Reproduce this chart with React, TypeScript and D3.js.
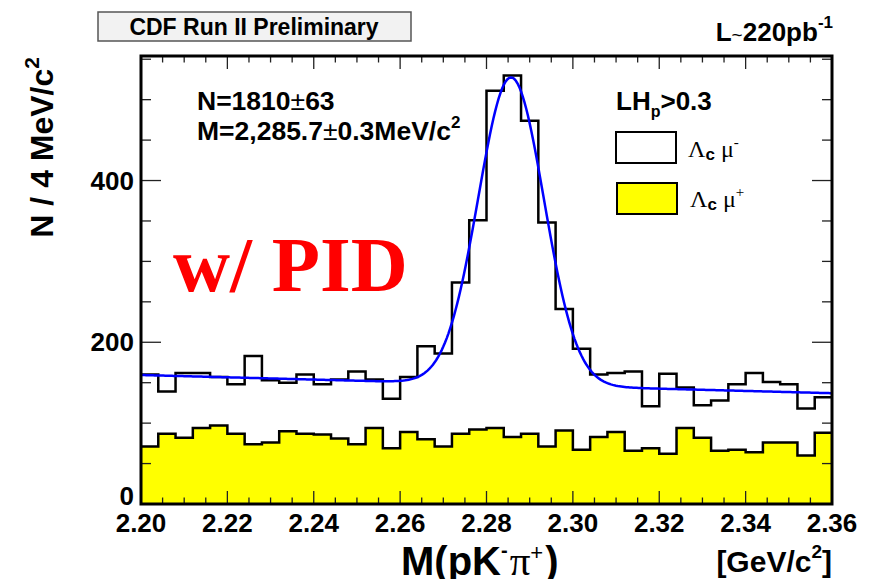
import React from 'react';
import * as d3 from 'd3';

// ---- data ----
const binLow = 2.2;
const binWidth = 0.004;
// Λc μ- (open histogram), 40 bins of 4 MeV from 2.20 to 2.36 GeV
const lcMuMinus = [160, 139, 162, 162, 157, 148, 183, 153, 150, 160, 148, 154, 164, 154, 130, 157, 195, 186, 274, 351, 511, 530, 474, 348, 241, 192, 160, 162, 164, 121, 161, 144, 122, 128, 148, 162, 151, 148, 118, 132];
// Λc μ+ (yellow filled histogram)
const lcMuPlus = [71, 87, 82, 94, 97, 87, 74, 76, 90, 87, 86, 81, 74, 94, 69, 89, 80, 71, 87, 92, 94, 83, 87, 71, 91, 67, 83, 89, 66, 69, 62, 94, 82, 66, 67, 64, 76, 76, 60, 88];
const xMajorTicks = [2.2, 2.22, 2.24, 2.26, 2.28, 2.3, 2.32, 2.34, 2.36];
const yMajorTicks = [0, 200, 400];
const yMinorTicks = [0, 50, 100, 150, 200, 250, 300, 350, 400, 450, 500, 550];
// fit (gaussian + linear background) parameters
const fitYield = 1810;
const fitMass = 2.2857;
const fitSigma = 0.0076;
const bgLeft = 159.5; // at 2.20
const bgRight = 137; // at 2.36

const W = 872;
const H = 579;
const L = 141, R = 832, T = 56, B = 504;
const sans = '"Liberation Sans", Arial, Helvetica, sans-serif';
const serif = '"Liberation Serif", "Times New Roman", serif';

export default function App() {
  const x = d3.scaleLinear().domain([2.2, 2.36]).range([L, R]);
  const y = d3.scaleLinear().domain([0, 554]).range([B, T]);

  const steps = (vals: number[]) => {
    const pts: [number, number][] = vals.map((v, i) => [binLow + i * binWidth, v]);
    pts.push([binLow + vals.length * binWidth, vals[vals.length - 1]]);
    return pts;
  };

  const line = d3
    .line<[number, number]>()
    .x((d) => x(d[0]))
    .y((d) => y(d[1]))
    .curve(d3.curveStepAfter);
  const area = d3
    .area<[number, number]>()
    .x((d) => x(d[0]))
    .y0(y(0))
    .y1((d) => y(d[1]))
    .curve(d3.curveStepAfter);

  const fitFn = (m: number) => {
    const bg = bgLeft + ((bgRight - bgLeft) * (m - 2.2)) / 0.16;
    const amp = (fitYield * binWidth) / (fitSigma * Math.sqrt(2 * Math.PI));
    return bg + amp * Math.exp(-0.5 * ((m - fitMass) / fitSigma) ** 2);
  };
  const fitPts: [number, number][] = d3.range(0, 401).map((i) => {
    const m = 2.2 + (i * 0.16) / 400;
    return [m, fitFn(m)];
  });
  const fitLine = d3
    .line<[number, number]>()
    .x((d) => x(d[0]))
    .y((d) => y(d[1]))
    .curve(d3.curveLinear);

  const xMinor = d3.range(0, 33).map((i) => 2.2 + i * 0.005);
  const tickColor = '#222';

  return (
    <svg
      width={W}
      height={H}
      style={{ position: 'absolute', left: 0, top: 0, background: '#fff' }}
      fontFamily={sans}
    >
      <rect x={0} y={0} width={W} height={H} fill="#fff" />
      {/* title box */}
      <rect x={98} y={12} width={313} height={29} fill="#f2f2f2" stroke="#555" strokeWidth={1.5} />
      <text x={254} y={35} textAnchor="middle" fontSize={23} fontWeight="bold">
        CDF Run II Preliminary
      </text>
      <text x={833} y={41} textAnchor="end" fontSize={26} fontWeight="bold">
        L<tspan fontWeight="normal" fontSize={19}>~</tspan>220pb
        <tspan dy={-13} fontSize={17}>-1</tspan>
      </text>

      {/* histograms */}
      <path d={area(steps(lcMuPlus)) || ''} fill="#ffff00" stroke="none" />
      <path d={line(steps(lcMuPlus)) || ''} fill="none" stroke="#000" strokeWidth={2.5} />
      <path d={line(steps(lcMuMinus)) || ''} fill="none" stroke="#000" strokeWidth={2.5} />
      <path d={fitLine(fitPts) || ''} fill="none" stroke="#0000ff" strokeWidth={2.5} />

      {/* ticks */}
      {xMinor.map((v, i) => {
        const major = i % 4 === 0;
        const len = major ? 13 : 6.5;
        return (
          <g key={'xt' + i} stroke={tickColor} strokeWidth={1.3}>
            <line x1={x(v)} x2={x(v)} y1={B} y2={B - len} />
            <line x1={x(v)} x2={x(v)} y1={T} y2={T + len} />
          </g>
        );
      })}
      {yMinorTicks.map((v, i) => {
        const major = yMajorTicks.includes(v);
        const len = major ? 20 : 10;
        return (
          <g key={'yt' + i} stroke={tickColor} strokeWidth={1.3}>
            <line x1={L} x2={L + len} y1={y(v)} y2={y(v)} />
            <line x1={R} x2={R - len} y1={y(v)} y2={y(v)} />
          </g>
        );
      })}

      {/* frame */}
      <rect x={L} y={T} width={R - L} height={B - T} fill="none" stroke="#000" strokeWidth={3} />

      {/* tick labels */}
      {xMajorTicks.map((v) => (
        <text key={'xl' + v} x={x(v)} y={532} textAnchor="middle" fontSize={26} fontWeight="bold">
          {d3.format('.2f')(v)}
        </text>
      ))}
      {yMajorTicks.map((v) => (
        <text key={'yl' + v} x={134} y={y(v) + (v === 0 ? 1 : 9)} textAnchor="end" fontSize={26} fontWeight="bold">
          {v}
        </text>
      ))}

      {/* axis titles */}
      <text transform="translate(53,57) rotate(-90)" textAnchor="end" fontSize={32} fontWeight="bold">
        N / 4 MeV/c<tspan dy={-14} fontSize={21}>2</tspan>
      </text>
      <text x={401} y={575} fontSize={40} fontWeight="bold">
        M(pK<tspan dy={-18} fontSize={20}>-</tspan>
        <tspan dy={18} dx={2} fontFamily={serif} fontWeight="normal" fontSize={41}>π</tspan>
        <tspan dy={-15} fontSize={22} fontWeight="normal">+</tspan>
        <tspan dy={15} dx={2}>)</tspan>
      </text>
      <text x={832} y={572} textAnchor="end" fontSize={30} fontWeight="bold">
        [GeV/c<tspan dy={-14} fontSize={19}>2</tspan>
        <tspan dy={14}>]</tspan>
      </text>

      {/* fit results */}
      <text x={197} y={110} fontSize={26.5} fontWeight="bold">
        N=1810<tspan fontWeight="normal">±</tspan>63
      </text>
      <text x={197} y={140} fontSize={26.5} fontWeight="bold">
        M=2,285.7<tspan fontWeight="normal">±</tspan>0.3MeV/c<tspan dy={-12} fontSize={17}>2</tspan>
      </text>

      {/* w/ PID */}
      <text x={173} y={291} fontSize={79} fontWeight="bold" fontFamily={serif} fill="#ff0000">
        w/ PID
      </text>

      {/* legend */}
      <text x={616} y={110} fontSize={26} fontWeight="bold">
        LH<tspan dy={7} fontSize={16}>p</tspan>
        <tspan dy={-7}>&gt;0.3</tspan>
      </text>
      <rect x={616} y={132} width={60} height={31} fill="#fff" stroke="#000" strokeWidth={2} />
      <text x={688} y={157} fontSize={24} fontFamily={serif}>
        Λ<tspan dy={3} fontSize={17} fontFamily={sans} fontWeight="bold">c</tspan>
        <tspan dy={-3}> μ</tspan>
        <tspan dy={-10} fontSize={15}>-</tspan>
      </text>
      <rect x={617} y={183} width={60} height={31} fill="#ffff00" stroke="#000" strokeWidth={2} />
      <text x={690} y={207} fontSize={24} fontFamily={serif}>
        Λ<tspan dy={3} fontSize={17} fontFamily={sans} fontWeight="bold">c</tspan>
        <tspan dy={-3}> μ</tspan>
        <tspan dy={-10} fontSize={15}>+</tspan>
      </text>
    </svg>
  );
}
